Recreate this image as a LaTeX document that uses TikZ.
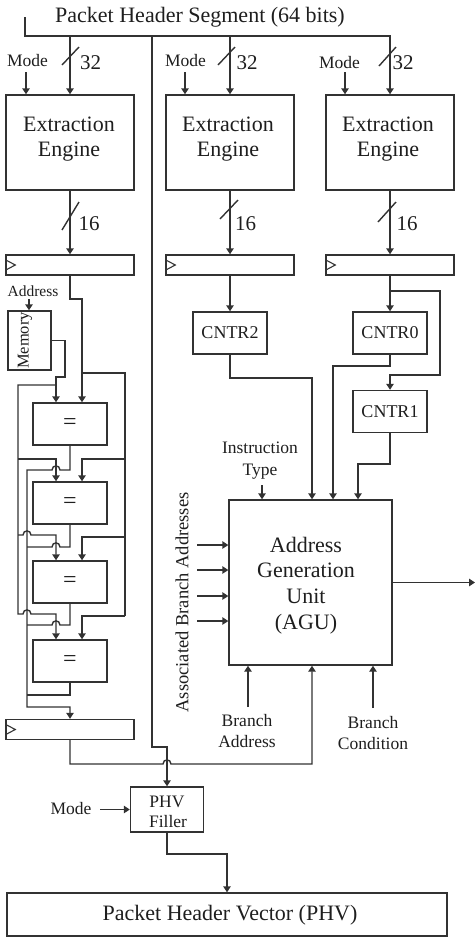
\documentclass[tikz,border=0pt]{standalone}
\usepackage{fontspec}
\setmainfont{Liberation Serif}
\usetikzlibrary{arrows.meta}
\definecolor{ln}{RGB}{50,50,50}
\definecolor{tx}{RGB}{30,30,30}
\begin{document}
\begin{tikzpicture}[x=1pt,y=-1pt,
  wire/.style={draw=ln,line width=1.4pt},
  arr/.style={wire,-{Triangle[length=6pt,width=7.5pt]}},
  box/.style={draw=ln,line width=1.4pt,inner sep=0pt,text=tx},
  txt/.style={inner sep=0pt,text=tx,anchor=base},
  big/.style={font=\fontsize{22}{25}\selectfont},
  sml/.style={font=\fontsize{17.5}{20}\selectfont},
  num/.style={font=\fontsize{21}{24}\selectfont},
  engine/.style={box,minimum width=128,minimum height=95},
  reg/.style={box,minimum width=128,minimum height=20},
  cmpbox/.style={box,minimum width=74,minimum height=42,font=\fontsize{24}{26}\selectfont},
  cntbox/.style={box,minimum width=74,minimum height=42,font=\fontsize{18}{20}\selectfont},
]
\useasboundingbox (0,0) rectangle (476,938);

% ---------- title and top bus ----------
\node[txt,font=\fontsize{22}{25}\selectfont] (title) at (200,22) {Packet Header Segment (64 bits)};
\coordinate (busL) at (25,17);

% ---------- extraction engines ----------
\node[engine] (ee1) at (70,142.5) {};
\node[engine] (ee2) at (230,142.5) {};
\node[engine] (ee3) at (390,142.5) {};
\foreach \n/\x in {ee1/69,ee2/228,ee3/388}{
  \node[txt,big] (\n a) at (\x,131.5) {Extraction};
  \node[txt,big] (\n b) at (\x,156.5) {Engine};
}

% bus
\draw[arr] (busL) -- (25,36) -- (390,36) -- (ee3.north);
\draw[arr] (70,36) -- (ee1.north);
\draw[arr] (230,36) -- (ee2.north);

% mode inputs
\node[txt,sml] (mode1) at (27.5,66) {Mode};
\node[txt,sml] (mode2) at (185.5,66) {Mode};
\node[txt,sml] (mode3) at (339.5,68) {Mode};
\coordinate (m1) at (26,72);
\coordinate (m2) at (185,72);
\coordinate (m3) at (345,72);
\draw[arr] (m1) -- (m1 |- ee1.north);
\draw[arr] (m2) -- (m2 |- ee2.north);
\draw[arr] (m3) -- (m3 |- ee3.north);

% 32-bit slashes
\draw[wire] (62,65) -- (79,47);
\draw[wire] (218,65) -- (235,47);
\draw[wire] (379,66) -- (396,47);
\node[txt,num] (w32a) at (90.5,69) {32};
\node[txt,num] (w32b) at (247,69) {32};
\node[txt,num] (w32c) at (403,69) {32};

% ---------- registers ----------
\node[reg] (r1) at (70,265) {};
\node[reg] (r2) at (230,265) {};
\node[reg] (r3) at (390,265) {};
\foreach \r in {r1,r2,r3}{
  \draw[ln,line width=1.1pt] (\r.west) ++(1.5,-4.5) -- ++(8.5,4.5) -- ++(-8.5,4.5);
}
\draw[arr] (ee1.south) -- (r1.north);
\draw[arr] (ee2.south) -- (r2.north);
\draw[arr] (ee3.south) -- (r3.north);
\draw[wire] (62,230) -- (79,202);
\draw[wire] (220,219) -- (238,200);
\draw[wire] (378,222) -- (396,202);
\node[txt,num] (w16a) at (89,230) {16};
\node[txt,num] (w16b) at (245.5,230) {16};
\node[txt,num] (w16c) at (407,230) {16};

% ---------- memory and comparators ----------
\node[txt,font=\fontsize{15.5}{17}\selectfont] (addr) at (33,296) {Address};
\node[box,minimum width=43,minimum height=59] (mem) at (29.5,340.5) {};
\node[inner sep=0pt,text=tx,rotate=90,font=\fontsize{16.5}{18}\selectfont] (memt) at (25,340.5) {Memory};
\coordinate (ad) at (29,299);
\draw[arr] (ad) -- (ad |- mem.north);

\node[cmpbox] (cmp1) at (70,424) {=};
\node[cmpbox] (cmp2) at (70,503) {=};
\node[cmpbox] (cmp3) at (70,582) {=};
\node[cmpbox] (cmp4) at (70,661) {=};

% register value (right inputs)
\coordinate (c1r) at (82,299);
\draw[arr] (r1.south) -- (70,299) -- (c1r) -- (c1r |- cmp1.north);
\coordinate (c2r) at (82,459);
\coordinate (c3r) at (82,537);
\coordinate (c4r) at (82,616);
\draw[wire] (82,373) -- (125,373) -- (125,616);
\draw[arr] (125,459) -- (c2r) -- (c2r |- cmp2.north);
\draw[arr] (125,537) -- (c3r) -- (c3r |- cmp3.north);
\draw[arr] (125,616) -- (c4r) -- (c4r |- cmp4.north);

% memory value (left inputs)
\coordinate (c1l) at (56,377);
\draw[arr] (mem.east) -- (65,340.5) -- (65,377) -- (c1l) -- (c1l |- cmp1.north);
\coordinate (c2l) at (56,459);
\coordinate (c3l) at (56,535);
\coordinate (c4l) at (56,614);
\draw[arr] (56,385) -- (18,385) -- (18,614) -- (23,614)
  .. controls (23,608.5) and (31,608.5) .. (31,614) -- (c4l) -- (c4l |- cmp4.north);
\draw[arr] (18,459) -- (c2l) -- (c2l |- cmp2.north);
\draw[arr] (18,535) -- (23,535)
  .. controls (23,529.5) and (31,529.5) .. (31,535) -- (c3l) -- (c3l |- cmp3.north);

% comparator outputs
\node[reg] (r4) at (70,729.5) {};
\draw[ln,line width=1.1pt] (r4.west) ++(1.5,-4.5) -- ++(8.5,4.5) -- ++(-8.5,4.5);
\draw[arr] (cmp1.south) -- (70,470) -- (60,470)
  .. controls (60,464.5) and (52,464.5) .. (52,470) -- (27,470) -- (27,707) -- (70,707) -- (r4.north);
\draw[wire] (cmp2.south) -- (70,547) -- (60,547)
  .. controls (60,541.5) and (52,541.5) .. (52,547) -- (27,547);
\draw[wire] (cmp3.south) -- (70,625) -- (60,625)
  .. controls (60,619.5) and (52,619.5) .. (52,625) -- (27,625);
\draw[wire] (cmp4.south) -- (70,695) -- (27,695);

% ---------- counters ----------
\node[cntbox] (cntr2) at (230,333) {CNTR2};
\node[cntbox] (cntr0) at (390,333) {CNTR0};
\node[cntbox] (cntr1) at (390,411.5) {CNTR1};
\draw[arr] (r2.south) -- (cntr2.north);
\draw[arr] (r3.south) -- (cntr0.north);
\draw[arr] (390,291) -- (440,291) -- (440,375) -- (390,375) -- (cntr1.north);

% ---------- AGU ----------
\node[box,minimum width=163,minimum height=165] (agu) at (310.5,582.5) {};
\node[txt,big] (agua) at (306,552) {Address};
\node[txt,big] (agub) at (306,577) {Generation};
\node[txt,big] (aguc) at (306,603) {Unit};
\node[txt,big] (agud) at (306,629) {(AGU)};

\coordinate (t2) at (312,378);
\coordinate (t0) at (333,366);
\coordinate (t1) at (358,464);
\draw[arr] (cntr2.south) -- (230,378) -- (t2) -- (t2 |- agu.north);
\draw[arr] (cntr0.south) -- (390,366) -- (t0) -- (t0 |- agu.north);
\draw[arr] (cntr1.south) -- (390,464) -- (t1) -- (t1 |- agu.north);

\node[txt,sml] (instr) at (260,453) {Instruction};
\node[txt,sml] (itype) at (260,475) {Type};
\coordinate (it) at (262,485);
\draw[arr] (it) -- (it |- agu.north);

\node[inner sep=0pt,text=tx,rotate=90,font=\fontsize{18.5}{20}\selectfont] (assoc) at (182,602.5) {Associated Branch Addresses};
\foreach \i/\y in {1/545,2/570,3/596,4/621}{
  \coordinate (la\i) at (197,\y);
  \draw[arr] (la\i) -- (la\i -| agu.west);
}
\coordinate (aguout) at (475,582.5);
\draw[arr] (agu.east) -- (aguout);

\node[txt,sml] (ba1) at (247,726) {Branch};
\node[txt,sml] (ba2) at (247,747) {Address};
\node[txt,sml] (bc1) at (373,728) {Branch};
\node[txt,sml] (bc2) at (373,749) {Condition};
\coordinate (bain) at (248,707);
\coordinate (bcin) at (373,708);
\draw[arr] (bain) -- (bain |- agu.south);
\draw[arr] (bcin) -- (bcin |- agu.south);

\coordinate (r4o) at (312,764);
\draw[arr] (r4.south) -- (70,764) -- (163,764)
  .. controls (163,758.5) and (171,758.5) .. (171,764) -- (r4o) -- (r4o |- agu.south);

% ---------- PHV filler and PHV ----------
\node[box,minimum width=73,minimum height=45] (filler) at (167,809.5) {};
\node[txt,sml] (fila) at (167,807) {PHV};
\node[txt,sml] (filb) at (168,827) {Filler};
\draw[arr] (152,36) -- (152,747) -- (167,747) -- (filler.north);
\node[txt,sml] (mode4) at (71,814) {Mode};
\coordinate (m4) at (100,809.5);
\draw[arr] (m4) -- (filler.west);

\node[box,minimum width=440,minimum height=43] (phv) at (227,914.5) {};
\node[txt,big] (phvt) at (230,920) {Packet Header Vector (PHV)};
\draw[arr] (filler.south) -- (167,854) -- (227,854) -- (phv.north);

\end{tikzpicture}
\end{document}
